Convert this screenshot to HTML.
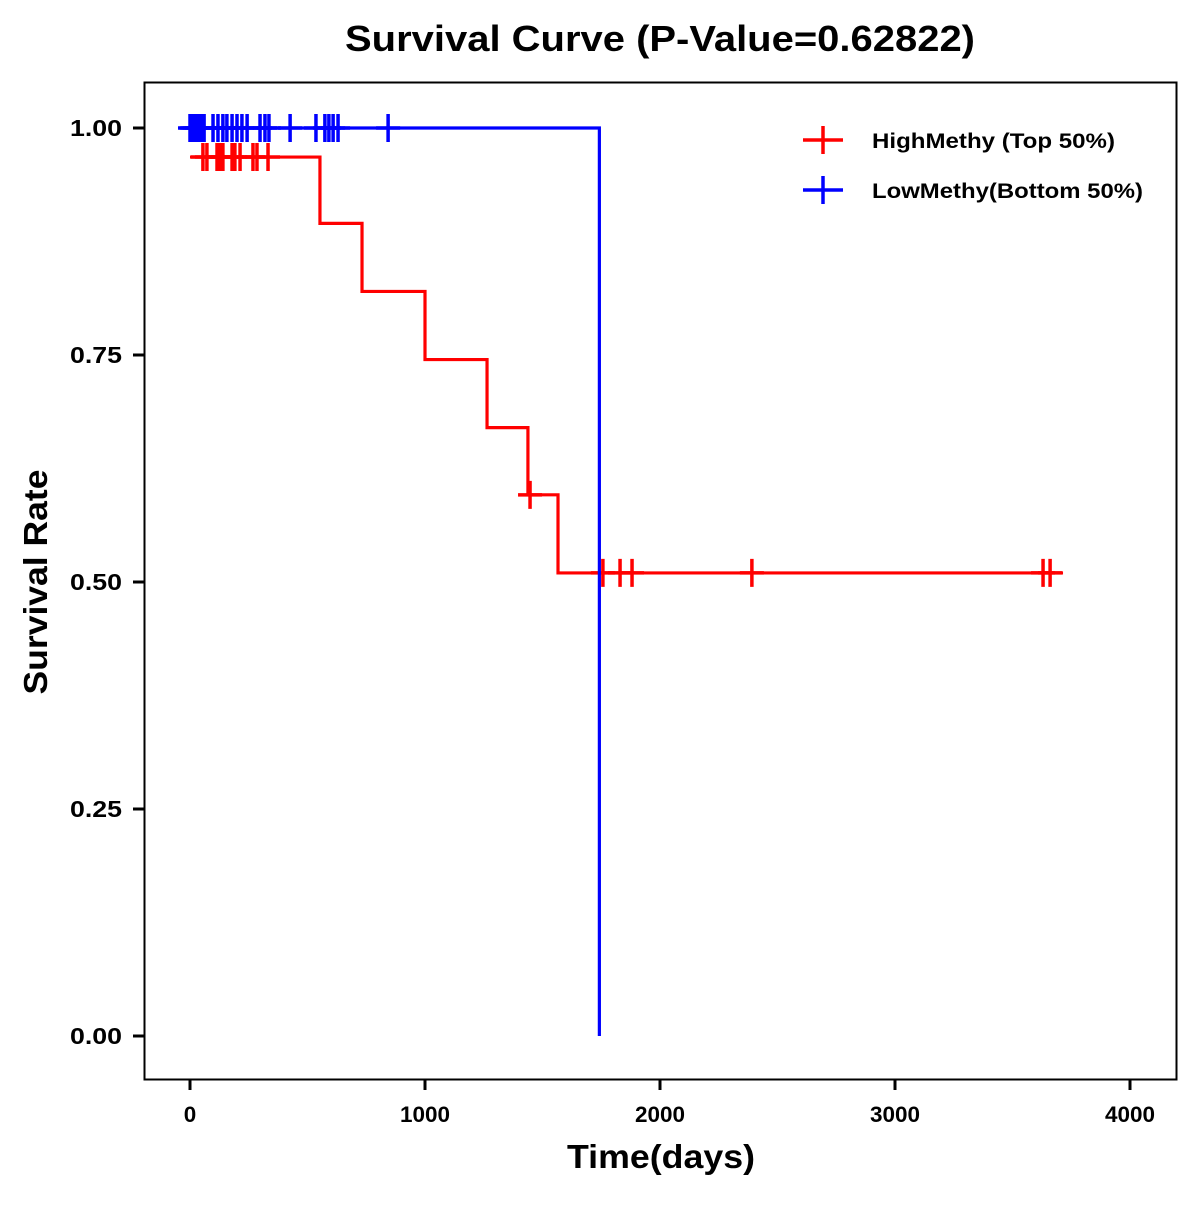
<!DOCTYPE html>
<html><head><meta charset="utf-8"><style>
html,body{margin:0;padding:0;background:#fff;}
svg text{font-family:"Liberation Sans",Arial,sans-serif;font-weight:bold;fill:#000;}
</style></head><body>
<svg id="chart" width="1200" height="1200" viewBox="0 0 1200 1200" xmlns="http://www.w3.org/2000/svg">
<rect x="0" y="0" width="1200" height="1200" fill="#fff"/>
<text x="660" y="51" font-size="36" text-anchor="middle" textLength="630" lengthAdjust="spacingAndGlyphs">Survival Curve (P-Value=0.62822)</text>
<rect x="144.5" y="82.5" width="1032" height="997" fill="none" stroke="#000" stroke-width="2"/>
<g id="axes"></g>
<g id="series"></g>
<text x="661" y="1168" font-size="33" text-anchor="middle" textLength="188" lengthAdjust="spacingAndGlyphs">Time(days)</text>
<text transform="translate(47,582) rotate(-90)" font-size="33" text-anchor="middle" textLength="225" lengthAdjust="spacingAndGlyphs">Survival Rate</text>
<g>
  <g>
    <line x1="803" y1="140" x2="843" y2="140" stroke="#ff0000" stroke-width="3.5"/>
    <line x1="823" y1="126" x2="823" y2="154" stroke="#ff0000" stroke-width="3.5"/>
    <text x="872" y="148" font-size="21" textLength="243" lengthAdjust="spacingAndGlyphs">HighMethy (Top 50%)</text>
  </g>
  <g>
    <line x1="803" y1="190" x2="843" y2="190" stroke="#0000ff" stroke-width="3.5"/>
    <line x1="823" y1="176" x2="823" y2="204" stroke="#0000ff" stroke-width="3.5"/>
    <text x="872" y="198" font-size="21" textLength="271" lengthAdjust="spacingAndGlyphs">LowMethy(Bottom 50%)</text>
  </g>
</g>
</svg>
<script>
const xTicks = [0, 1000, 2000, 3000, 4000];
const yTicks = [0, 0.25, 0.5, 0.75, 1.0];
const yTickLabels = ["0.00", "0.25", "0.50", "0.75", "1.00"];
// High methylation group steps
const highTimes = [0, 553, 732, 1000, 1264, 1438, 1566, 3715];
const highSurv = [0.968, 0.895, 0.82, 0.745, 0.67, 0.596, 0.51, 0.51];
const highCensor = [55, 72, 115, 128, 140, 179, 191, 213, 268, 285, 332, 1447, 1757, 1830, 1881, 2391, 3630, 3660];
// Low methylation group steps
const lowTimes = [-45, 1742, 1742];
const lowSurv = [1.0, 1.0, 0.0];
const lowCensor = [0, 10, 20, 30, 40, 50, 60, 98, 119, 140, 157, 179, 200, 221, 243, 298, 319, 336, 426, 536, 574, 591, 609, 630, 843];

const NS = "http://www.w3.org/2000/svg";
function X(t){ return 190 + t * 0.235; }
function Y(s){ return 1036 - s * 908; }
function mk(tag, attrs, parent){ const e = document.createElementNS(NS, tag); for (const k in attrs) e.setAttribute(k, attrs[k]); parent.appendChild(e); return e; }

const axes = document.getElementById('axes');
xTicks.forEach(t => {
  const g = mk('g', {}, axes);
  
  
  mk('line', {x1: X(t), y1: 1080, x2: X(t), y2: 1090, stroke: '#000', 'stroke-width': 3}, g);
  const lbl = String(t);
  const tx = mk('text', {x: X(t), y: 1122, 'font-size': 22, 'text-anchor': 'middle', textLength: lbl.length * 12.5, lengthAdjust: 'spacingAndGlyphs'}, g);
  tx.textContent = lbl;
});
yTicks.forEach((v, i) => {
  const g = mk('g', {}, axes);
  
  
  mk('line', {x1: 133, y1: Y(v), x2: 144, y2: Y(v), stroke: '#000', 'stroke-width': 3}, g);
  const tx = mk('text', {x: 122, y: Y(v) + 8, 'font-size': 23, 'text-anchor': 'end', textLength: 52, lengthAdjust: 'spacingAndGlyphs'}, g);
  tx.textContent = yTickLabels[i];
});

function stepPath(times, surv){
  let d = 'M' + X(times[0]) + ' ' + Y(surv[0]);
  for (let i = 1; i < times.length; i++){
    d += ' H' + X(times[i]) + ' V' + Y(surv[i]);
  }
  return d;
}
function survAt(times, surv, t){
  let s = surv[0];
  for (let i = 0; i < times.length; i++){ if (times[i] <= t) s = surv[i]; }
  return s;
}
const series = document.getElementById('series');
function drawSeries(name, times, surv, cens, color){
  const g = mk('g', {}, series);
  
  
  const p = mk('path', {d: stepPath(times, surv), fill: 'none', stroke: color, 'stroke-width': 3.2}, g);
  
  
  cens.forEach(t => {
    const s = survAt(times, surv, t);
    const m = mk('path', {d: 'M' + (X(t) - 12) + ' ' + Y(s) + ' H' + (X(t) + 12) + ' M' + X(t) + ' ' + (Y(s) - 14) + ' V' + (Y(s) + 14), stroke: color, 'stroke-width': 3.5, fill: 'none'}, g);
    
    
  });
}
drawSeries('high-methy-series', highTimes, highSurv, highCensor, '#ff0000');
drawSeries('low-methy-series', lowTimes, lowSurv, lowCensor, '#0000ff');
</script>
</body></html>
